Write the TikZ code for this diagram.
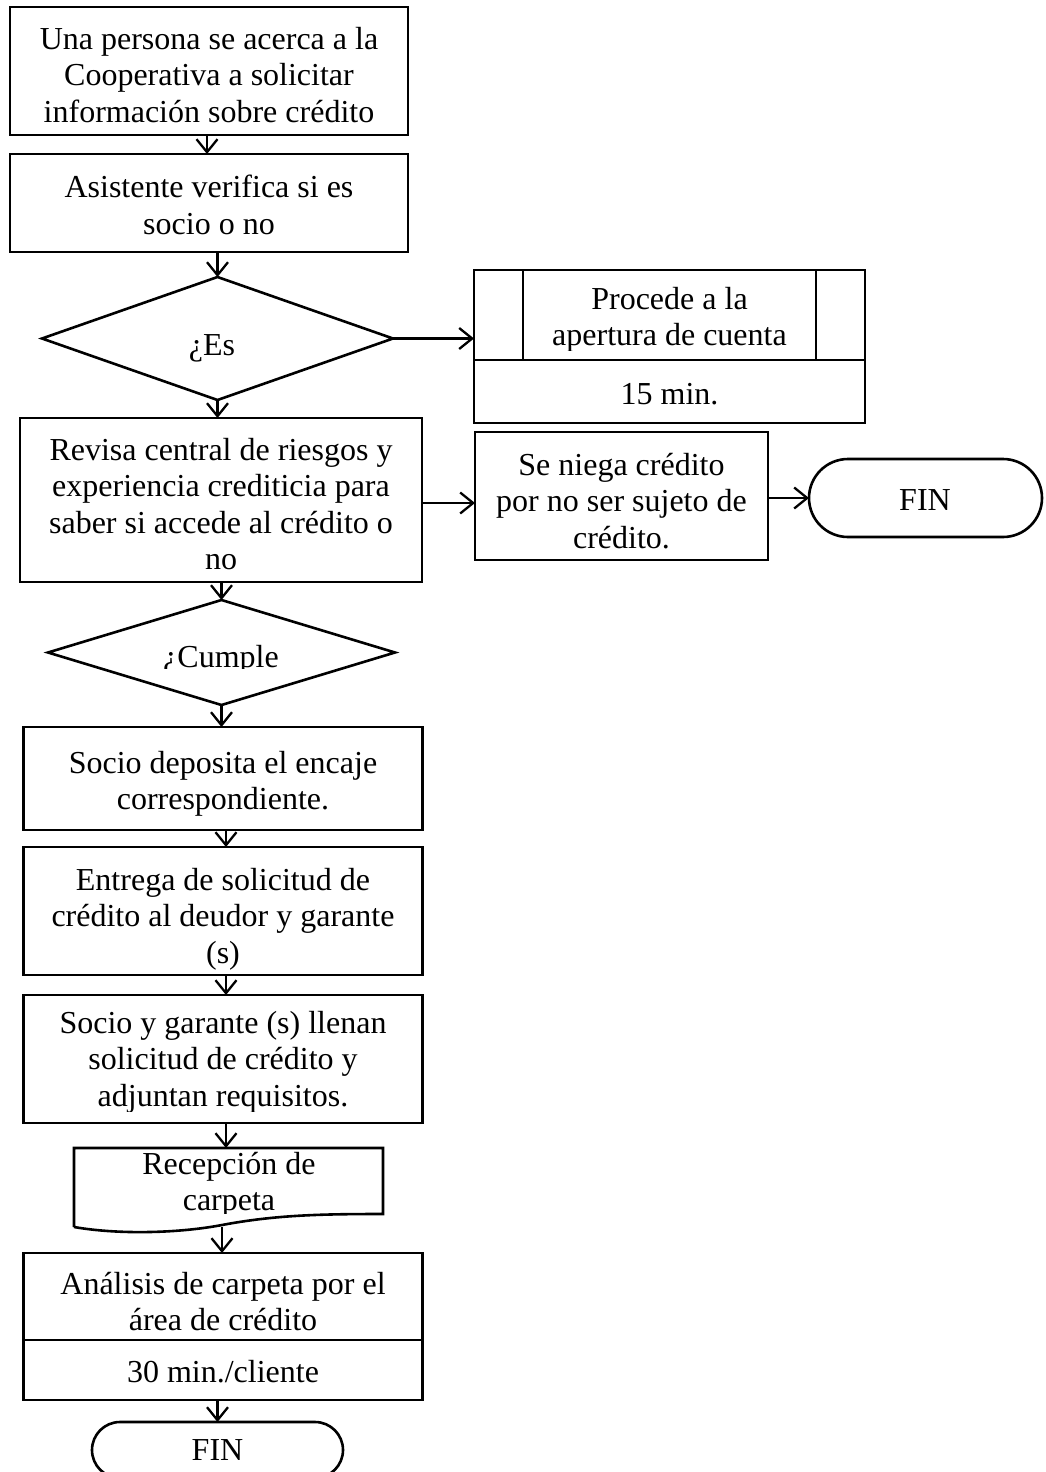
\documentclass[tikz,border=0pt]{standalone}
\usepackage{fontspec}
\setmainfont{Liberation Serif}
\usetikzlibrary{arrows.meta,shapes.geometric,shapes.misc}

\begin{document}
\begin{tikzpicture}[x=1pt,y=-1pt,line width=2.6pt,
  shapebox/.style={draw,rectangle,inner sep=0pt,outer sep=0pt},
  decision/.style={draw,diamond,inner sep=0pt,outer sep=0pt},
  terminal/.style={draw,rounded rectangle,inner sep=0pt,outer sep=0pt},
  % labels are anchored 26pt above the baseline of their first line
  lbl/.style={anchor=north,inner sep=0pt,outer sep=0pt,align=center,
    font=\fontsize{32}{36.5}\selectfont,
    execute at begin node={\rule{0pt}{26pt}}},
  arr/.style={-{Straight Barb[length=13pt,width=21pt,line width=2.3pt]}}]

% page area
\clip (0,0) rectangle (1045,1472);
\fill[white] (0,0) rectangle (1045,1472);

% ---- main column ----
\node[shapebox,minimum width=398pt,minimum height=128pt] (b1) at (209,71) {};
\node[lbl] (l1) at (209,27) {Una persona se acerca a la\\Cooperativa a solicitar\\información sobre crédito};

\node[shapebox,minimum width=398pt,minimum height=98pt] (b2) at (209,203) {};
\node[lbl] (l2) at (209,175) {Asistente verifica si es\\socio o no};

\node[decision,minimum width=351pt,minimum height=123pt] (d1) at (217.5,338.5) {};
\node[lbl] (ld1) at (212,329) {¿Es};

\node[shapebox,minimum width=402pt,minimum height=164pt] (b3) at (221,500) {};
\node[lbl] (l3) at (221,438) {Revisa central de riesgos y\\experiencia crediticia para\\saber si accede al crédito o\\no};

\node[decision,minimum width=347pt,minimum height=105pt] (d2) at (221.5,652.5) {};
\begin{scope}
  \clip (60,600) rectangle (390,668);
  \node[lbl] (ld2) at (221,641) {¿Cumple};
\end{scope}

\node[shapebox,minimum width=399pt,minimum height=103pt] (b5) at (223,778.5) {};
\node[lbl] (l5) at (223,751) {Socio deposita el encaje\\correspondiente.};

\node[shapebox,minimum width=399pt,minimum height=128pt] (b6) at (223,911) {};
\node[lbl] (l6) at (223,868) {Entrega de solicitud de\\crédito al deudor y garante\\(s)};

\node[shapebox,minimum width=399pt,minimum height=128pt] (b7) at (223,1059) {};
\begin{scope}
  \clip (26,996) rectangle (420,1111);
  \node[lbl] (l7) at (223,1011) {Socio y garante (s) llenan\\solicitud de crédito y\\adjuntan requisitos.};
\end{scope}

% document shape with wavy lower edge
\node[inner sep=0pt,outer sep=0pt,minimum width=309pt,minimum height=66pt] (doc) at (228.5,1181) {};
\draw (74,1227) -- (74,1148) -- (383,1148) -- (383,1214)
  .. controls (320,1214) and (275,1215) .. (222,1225)
  .. controls (180,1233) and (120,1235) .. (74,1227);
\coordinate (docb) at (222,1227);
\begin{scope}
  \clip (76,1150) rectangle (381,1213);
  \node[lbl] (ldoc) at (229,1152) {Recepción de\\carpeta};
\end{scope}

\node[shapebox,minimum width=399pt,minimum height=87pt] (b8) at (223,1296.5) {};
\begin{scope}
  \clip (26,1255) rectangle (420,1330);
  \node[lbl] (l8) at (223,1272) {Análisis de carpeta por el\\área de crédito};
\end{scope}
\node[shapebox,minimum width=399pt,minimum height=60pt] (t8) at (223,1370) {};
\node[lbl] (lt8) at (223,1356) {30 min./cliente};

\node[terminal,minimum width=251pt,minimum height=56pt] (fin2) at (217.5,1450) {};
\node[lbl] (lf2) at (217.5,1434) {FIN};

% ---- right branches ----
\node[shapebox,minimum width=391pt,minimum height=90pt] (p1) at (669.5,315) {};
\draw ([xshift=-146.5pt]p1.north) -- ([xshift=-146.5pt]p1.south);
\draw ([xshift=146.5pt]p1.north) -- ([xshift=146.5pt]p1.south);
\begin{scope}
  \clip (525,272) rectangle (814,350);
  \node[lbl] (lp1) at (669.5,287) {Procede a la\\apertura de cuenta};
\end{scope}
\node[shapebox,minimum width=391pt,minimum height=63pt] (t1) at (669.5,391.5) {};
\node[lbl] (lt1) at (669.5,378) {15 min.};

\node[shapebox,minimum width=293pt,minimum height=128pt] (b4) at (621.5,496) {};
\node[lbl] (l4) at (621.5,453) {Se niega crédito\\por no ser sujeto de\\crédito.};

\node[terminal,minimum width=233pt,minimum height=78pt] (fin1) at (925.5,498) {};
\node[lbl] (lf1) at (925,484) {FIN};

% ---- connectors ----
\draw[arr] ([xshift=-2pt]b1.south) -- ([xshift=-2pt]b2.north);
\draw[arr] (b2.south -| d1.north) -- (d1.north);
\draw[arr] (d1.east) -- (d1.east -| p1.west);
\draw[arr] (d1.south) -- (d1.south |- b3.north);
\draw[arr] ([yshift=-3pt]b3.east) -- ([yshift=-3pt]b3.east -| b4.west);
\draw[arr] (fin1.west -| b4.east) -- (fin1.west);
\draw[arr] (b3.south -| d2.north) -- (d2.north);
\draw[arr] (d2.south) -- (d2.south |- b5.north);
\draw[arr] ([xshift=3pt]b5.south) -- ([xshift=3pt]b6.north);
\draw[arr] ([xshift=3pt]b6.south) -- ([xshift=3pt]b7.north);
\draw[arr] ([xshift=3pt]b7.south) -- ([xshift=3pt]b7.south |- doc.north);
\draw[arr] (docb) -- (docb |- b8.north);
\draw[arr] (t8.south -| fin2.north) -- (fin2.north);
\end{tikzpicture}
\end{document}
